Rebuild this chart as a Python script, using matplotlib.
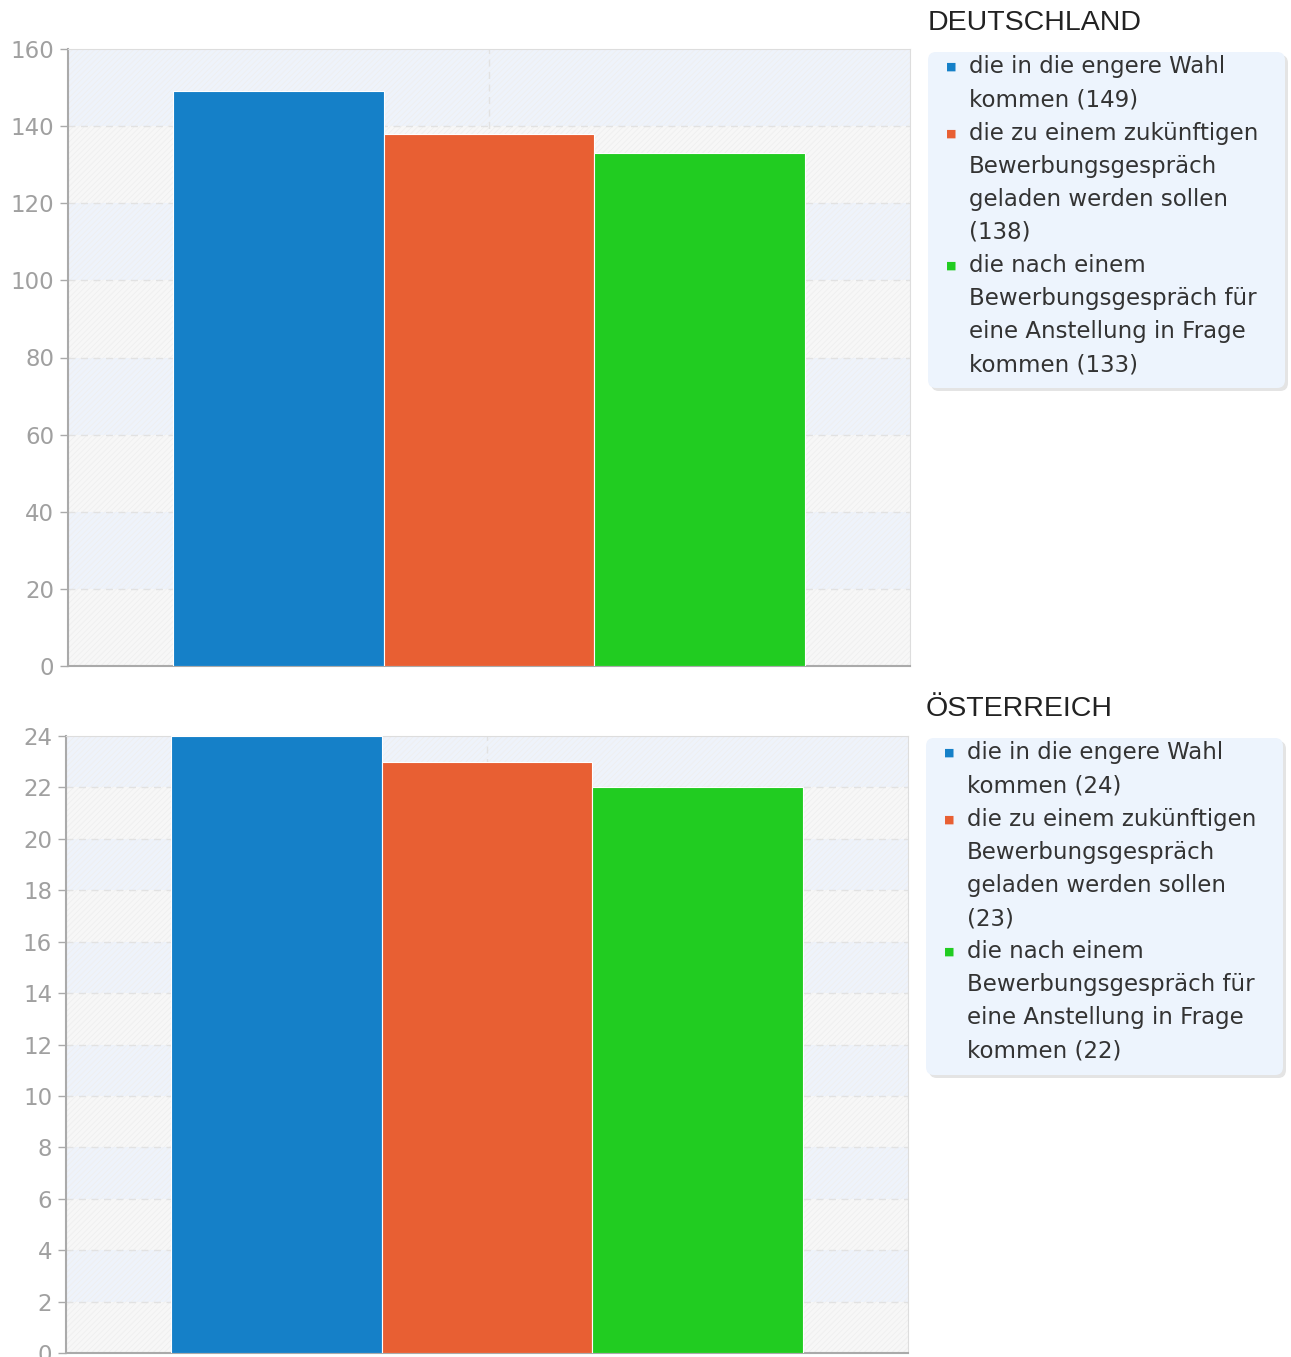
import matplotlib.pyplot as plt
from matplotlib.patches import FancyBboxPatch

W, H = 1291, 1357

countries = ['DEUTSCHLAND', 'ÖSTERREICH']
labels = ['die in die engere Wahl\nkommen',
          'die zu einem zukünftigen\nBewerbungsgespräch\ngeladen werden sollen\n',
          'die nach einem\nBewerbungsgespräch für\neine Anstellung in Frage\nkommen']
values_de = [149, 138, 133]
values_at = [24, 23, 22]
ymax = [160, 24]
ystep = [20, 2]
colors = ['#1580c8', '#e85f33', '#21cc21']

plt.rcParams['font.family'] = 'DejaVu Sans'
plt.rcParams['hatch.linewidth'] = 0.6

fig = plt.figure(figsize=(W / 100, H / 100), dpi=100)


def px(x, y):
    return x / W, 1 - y / H


# axes boxes in pixels: left, top, right, bottom
boxes = [(68, 49, 910, 666), (66, 736, 908, 1353)]
legend_pos = [(928, 23, 52, 388), (926, 709, 738, 1075)]

for k, vals in enumerate([values_de, values_at]):
    l, t, r, b = boxes[k]
    ax = fig.add_axes([l / W, 1 - b / H, (r - l) / W, (b - t) / H])
    ax.set_xlim(0, 1)
    ax.set_ylim(0, ymax[k])

    # striped background bands
    n = int(ymax[k] / ystep[k])
    for i in range(n):
        y0 = i * ystep[k]
        fc = '#f7f7f7' if i % 2 == 0 else '#eef3fb'
        ax.axhspan(y0, y0 + ystep[k], facecolor=fc, edgecolor='#efefef',
                   hatch='//////', linewidth=0, zorder=0)

    for i in range(1, n):
        ax.axhline(i * ystep[k], color='#e2e2e2', lw=1, ls=(0, (5, 4)), zorder=1)
    ax.axvline(0.5, color='#e2e2e2', lw=1, ls=(0, (5, 4)), zorder=1)

    width = 0.25
    xs = [0.125 + width * (i + 0.5) for i in range(3)]
    ax.bar(xs, vals, width=width, color=colors, edgecolor='white', linewidth=0.8, zorder=3)

    ax.set_yticks(range(0, ymax[k] + 1, ystep[k]))
    ax.set_xticks([])
    ax.tick_params(axis='y', direction='out', length=6, width=1, color='#aaaaaa',
                   labelcolor='#a0a0a0', labelsize=16.5, pad=4)
    for side in ['top', 'right']:
        ax.spines[side].set_color('#dddddd')
    for side in ['left', 'bottom']:
        ax.spines[side].set_color('#aaaaaa')
        ax.spines[side].set_linewidth(1.5)

    # legend
    lx, ty, by0, by1 = legend_pos[k]
    fig.text(*px(lx, ty), countries[k], fontsize=20.5, family='Liberation Sans',
             color='#222222', va='center', ha='left')
    # shadow + box
    sx0, sy0 = px(lx + 3, by1 + 3)
    sx1, sy1 = px(lx + 360, by0 + 3)
    fig.patches.append(FancyBboxPatch((sx0, sy0), sx1 - sx0, sy1 - sy0,
                                      boxstyle='round,pad=0,rounding_size=0.006',
                                      transform=fig.transFigure, facecolor='#e4e4e4',
                                      edgecolor='none', zorder=0))
    bx0, bby0 = px(lx, by1)
    bx1, bby1 = px(lx + 357, by0)
    fig.patches.append(FancyBboxPatch((bx0, bby0), bx1 - bx0, bby1 - bby0,
                                      boxstyle='round,pad=0,rounding_size=0.006',
                                      transform=fig.transFigure, facecolor='#edf4fd',
                                      edgecolor='none', zorder=1))
    line_h = 33.1
    yy = by0 + 15
    for i, lab in enumerate(labels):
        text = lab + ('' if lab.endswith('\n') else ' ') + f'({vals[i]})'
        lines = text.split('\n')
        fig.text(*px(lx + 23, yy), '■', color=colors[i], fontsize=8,
                 va='center', ha='center')
        for ln in lines:
            fig.text(*px(lx + 41, yy), ln, fontsize=16.5, color='#333333',
                     va='center', ha='left')
            yy += line_h

fig.savefig('out.png', dpi=100)
